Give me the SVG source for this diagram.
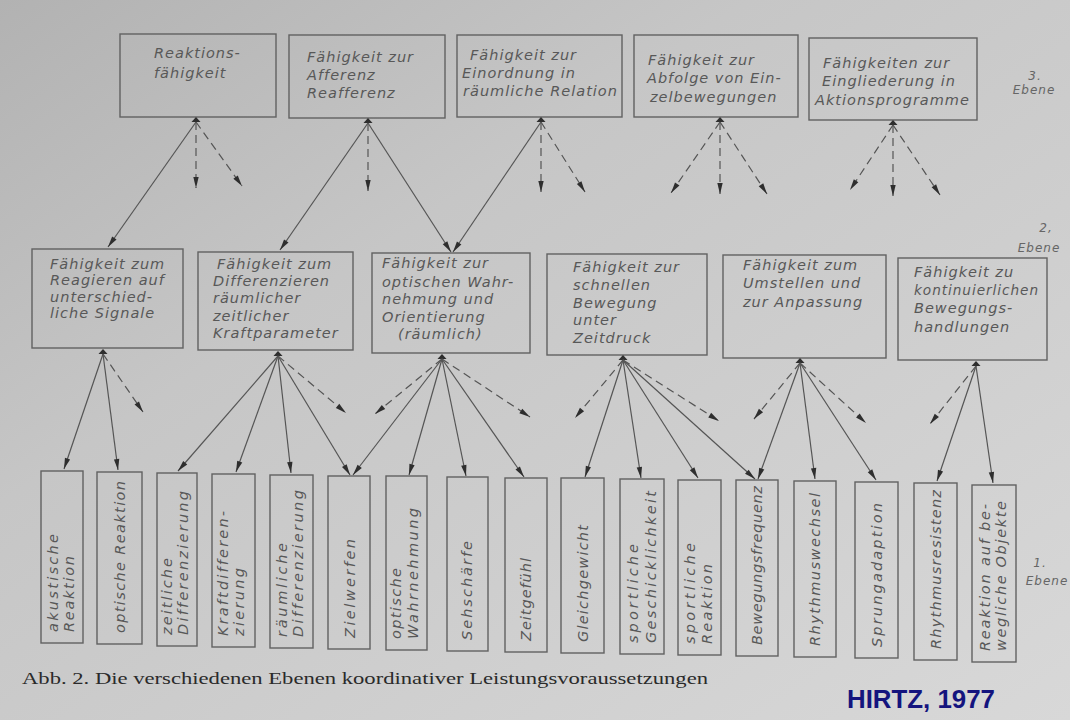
<svg xmlns="http://www.w3.org/2000/svg" width="1070" height="720" viewBox="0 0 1070 720">
<defs>
<linearGradient id="bg" x1="0" y1="0" x2="1" y2="1">
<stop offset="0" stop-color="#b2b2b2"/>
<stop offset="0.35" stop-color="#c6c6c6"/>
<stop offset="1" stop-color="#d8d8d8"/>
</linearGradient>
<marker id="ah" markerUnits="userSpaceOnUse" markerWidth="14" markerHeight="8" viewBox="-12 -4 14 8" refX="0" refY="0" orient="auto">
<path d="M0,0 L-11,-2.7 L-11,2.7 z" fill="#2e2e2e"/>
</marker>
<path id="tri" d="M0,0 L4.5,5 L-4.5,5 z"/>
</defs>
<style>
.box{fill:none;stroke:#616161;stroke-width:1.4}
.lbl{font-family:"DejaVu Sans",sans-serif;font-style:italic;font-size:14.5px;fill:#585858;letter-spacing:1px}
.v{font-family:"DejaVu Sans",sans-serif;font-style:italic;font-size:14.5px;fill:#585858;letter-spacing:1px}
.eb{font-family:"DejaVu Sans",sans-serif;font-style:italic;font-size:12px;fill:#666;letter-spacing:1px;text-anchor:middle}
.ln{stroke:#555;stroke-width:1.2;fill:none;marker-end:url(#ah)}
.dl{stroke-dasharray:8 5}
.apex{fill:#2e2e2e}
.cap{font-family:"Liberation Serif",serif;font-size:16px;fill:#2a2a2a}
.hz{font-family:"Liberation Sans",sans-serif;font-weight:bold;font-size:25px;fill:#14147e}
</style>
<rect x="0" y="0" width="1070" height="720" fill="url(#bg)"/>

<!-- Level 3 -->
<g id="t1"><rect class="box" x="120" y="34" width="156" height="83"/>
<text class="lbl"><tspan x="154" y="58">Reaktions-</tspan><tspan x="154" y="78">fähigkeit</tspan></text></g>
<g id="t2"><rect class="box" x="289" y="35" width="156" height="83"/>
<text class="lbl"><tspan x="307" y="62">Fähigkeit zur</tspan><tspan x="307" y="80">Afferenz</tspan><tspan x="307" y="98">Reafferenz</tspan></text></g>
<g id="t3"><rect class="box" x="457" y="35" width="165" height="82"/>
<text class="lbl"><tspan x="470" y="60">Fähigkeit zur</tspan><tspan x="462" y="78">Einordnung in</tspan></text>
<text class="lbl" x="463" y="96" textLength="155" lengthAdjust="spacingAndGlyphs">räumliche Relation</text></g>
<g id="t4"><rect class="box" x="634" y="35" width="164" height="82"/>
<text class="lbl"><tspan x="648" y="65">Fähigkeit zur</tspan><tspan x="647" y="83">Abfolge von Ein-</tspan><tspan x="650" y="102">zelbewegungen</tspan></text></g>
<g id="t5"><rect class="box" x="809" y="38" width="168" height="82"/>
<text class="lbl"><tspan x="823" y="68">Fähigkeiten zur</tspan><tspan x="822" y="86">Eingliederung in</tspan><tspan x="815" y="105">Aktionsprogramme</tspan></text></g>

<!-- Level 2 -->
<g id="m1"><rect class="box" x="32" y="249" width="151" height="99"/>
<text class="lbl"><tspan x="50" y="269">Fähigkeit zum</tspan><tspan x="50" y="285">Reagieren auf</tspan><tspan x="50" y="302">unterschied-</tspan><tspan x="50" y="318">liche Signale</tspan></text></g>
<g id="m2"><rect class="box" x="198" y="252" width="155" height="98"/>
<text class="lbl"><tspan x="217" y="269">Fähigkeit zum</tspan><tspan x="213" y="286">Differenzieren</tspan><tspan x="213" y="303">räumlicher</tspan><tspan x="213" y="321">zeitlicher</tspan><tspan x="213" y="338">Kraftparameter</tspan></text></g>
<g id="m3"><rect class="box" x="372" y="253" width="158" height="100"/>
<text class="lbl"><tspan x="382" y="268">Fähigkeit zur</tspan><tspan x="382" y="287">optischen Wahr-</tspan><tspan x="382" y="304">nehmung und</tspan><tspan x="382" y="322">Orientierung</tspan><tspan x="398" y="339">(räumlich)</tspan></text></g>
<g id="m4"><rect class="box" x="547" y="254" width="160" height="101"/>
<text class="lbl"><tspan x="573" y="272">Fähigkeit zur</tspan><tspan x="573" y="290">schnellen</tspan><tspan x="573" y="308">Bewegung</tspan><tspan x="573" y="325">unter</tspan><tspan x="573" y="343">Zeitdruck</tspan></text></g>
<g id="m5"><rect class="box" x="723" y="255" width="163" height="103"/>
<text class="lbl"><tspan x="743" y="270">Fähigkeit zum</tspan><tspan x="743" y="288">Umstellen und</tspan><tspan x="743" y="307">zur Anpassung</tspan></text></g>
<g id="m6"><rect class="box" x="898" y="258" width="149" height="102"/>
<text class="lbl"><tspan x="914" y="277">Fähigkeit zu</tspan></text>
<text class="lbl" x="914" y="295" textLength="125" lengthAdjust="spacingAndGlyphs">kontinuierlichen</text>
<text class="lbl"><tspan x="914" y="313">Bewegungs-</tspan><tspan x="914" y="332">handlungen</tspan></text></g>

<!-- Level 1 -->
<g id="b1"><rect class="box" x="41" y="471" width="42" height="172"/>
<text class="v" transform="translate(58,632) rotate(-90)" textLength="99">akustische</text>
<text class="v" transform="translate(74,632) rotate(-90)" textLength="77">Reaktion</text></g>
<g id="b2"><rect class="box" x="97" y="472" width="45" height="172"/>
<text class="v" transform="translate(125,633) rotate(-90)" textLength="153">optische Reaktion</text></g>
<g id="b3"><rect class="box" x="157" y="473" width="40" height="173"/>
<text class="v" transform="translate(172,635) rotate(-90)" textLength="78">zeitliche</text>
<text class="v" transform="translate(188,635) rotate(-90)" textLength="145">Differenzierung</text></g>
<g id="b4"><rect class="box" x="212" y="474" width="43" height="173"/>
<text class="v" transform="translate(228,636) rotate(-90)" textLength="126">Kraftdifferen-</text>
<text class="v" transform="translate(244,636) rotate(-90)" textLength="69">zierung</text></g>
<g id="b5"><rect class="box" x="270" y="475" width="43" height="173"/>
<text class="v" transform="translate(287,637) rotate(-90)" textLength="95">räumliche</text>
<text class="v" transform="translate(303,637) rotate(-90)" textLength="148">Differenzierung</text></g>
<g id="b6"><rect class="box" x="328" y="476" width="42" height="173"/>
<text class="v" transform="translate(355,638) rotate(-90)" textLength="100">Zielwerfen</text></g>
<g id="b7"><rect class="box" x="386" y="476" width="41" height="174"/>
<text class="v" transform="translate(401,639) rotate(-90)" textLength="72">optische</text>
<text class="v" transform="translate(418,639) rotate(-90)" textLength="132">Wahrnehmung</text></g>
<g id="b8"><rect class="box" x="447" y="477" width="41" height="174"/>
<text class="v" transform="translate(472,640) rotate(-90)" textLength="100">Sehschärfe</text></g>
<g id="b9"><rect class="box" x="505" y="478" width="42" height="174"/>
<text class="v" transform="translate(531,641) rotate(-90)" textLength="84">Zeitgefühl</text></g>
<g id="b10"><rect class="box" x="561" y="478" width="43" height="175"/>
<text class="v" transform="translate(588,642) rotate(-90)" textLength="118">Gleichgewicht</text></g>
<g id="b11"><rect class="box" x="620" y="479" width="44" height="175"/>
<text class="v" transform="translate(638,643) rotate(-90)" textLength="100">sportliche</text>
<text class="v" transform="translate(656,643) rotate(-90)" textLength="153">Geschicklichkeit</text></g>
<g id="b12"><rect class="box" x="678" y="480" width="43" height="175"/>
<text class="v" transform="translate(695,644) rotate(-90)" textLength="102">sportliche</text>
<text class="v" transform="translate(712,644) rotate(-90)" textLength="81">Reaktion</text></g>
<g id="b13"><rect class="box" x="736" y="480" width="42" height="176"/>
<text class="v" transform="translate(762,645) rotate(-90)" textLength="160">Bewegungsfrequenz</text></g>
<g id="b14"><rect class="box" x="794" y="481" width="42" height="176"/>
<text class="v" transform="translate(820,646) rotate(-90)" textLength="154">Rhythmuswechsel</text></g>
<g id="b15"><rect class="box" x="855" y="482" width="43" height="176"/>
<text class="v" transform="translate(882,647) rotate(-90)" textLength="145">Sprungadaption</text></g>
<g id="b16"><rect class="box" x="914" y="483" width="43" height="177"/>
<text class="v" transform="translate(941,649) rotate(-90)" textLength="160">Rhythmusresistenz</text></g>
<g id="b17"><rect class="box" x="972" y="485" width="44" height="177"/>
<text class="v" transform="translate(990,651) rotate(-90)" textLength="148">Reaktion auf be-</text>
<text class="v" transform="translate(1006,651) rotate(-90)" textLength="151">wegliche Objekte</text></g>

<!-- Level labels -->
<g id="levels">
<text class="eb" x="1035" y="80">3.</text><text class="eb" x="1034" y="94">Ebene</text>
<text class="eb" x="1046" y="232">2,</text><text class="eb" x="1039" y="252">Ebene</text>
<text class="eb" x="1040" y="567">1.</text><text class="eb" x="1047" y="585">Ebene</text>
</g>

<!-- Connectors -->
<g id="connectors">
<use href="#tri" class="apex" x="196" y="117"/>
<use href="#tri" class="apex" x="368" y="118"/>
<use href="#tri" class="apex" x="541" y="117"/>
<use href="#tri" class="apex" x="720" y="117"/>
<use href="#tri" class="apex" x="893" y="120"/>
<use href="#tri" class="apex" x="103" y="349"/>
<use href="#tri" class="apex" x="278" y="351"/>
<use href="#tri" class="apex" x="442" y="354"/>
<use href="#tri" class="apex" x="623" y="355"/>
<use href="#tri" class="apex" x="800" y="358"/>
<use href="#tri" class="apex" x="976" y="361"/>

<line class="ln" x1="196" y1="122" x2="108" y2="247"/>
<line class="ln dl" x1="196" y1="122" x2="196" y2="188"/>
<line class="ln dl" x1="196" y1="122" x2="242" y2="186"/>

<line class="ln" x1="368" y1="123" x2="280" y2="250"/>
<line class="ln dl" x1="368" y1="123" x2="368" y2="191"/>
<line class="ln" x1="368" y1="123" x2="451" y2="252"/>

<line class="ln" x1="541" y1="122" x2="453" y2="252"/>
<line class="ln dl" x1="541" y1="122" x2="541" y2="192"/>
<line class="ln dl" x1="541" y1="122" x2="585" y2="192"/>

<line class="ln dl" x1="720" y1="122" x2="671" y2="193"/>
<line class="ln dl" x1="720" y1="122" x2="720" y2="194"/>
<line class="ln dl" x1="720" y1="122" x2="767" y2="194"/>

<line class="ln dl" x1="893" y1="125" x2="850" y2="190"/>
<line class="ln dl" x1="893" y1="125" x2="893" y2="196"/>
<line class="ln dl" x1="893" y1="125" x2="940" y2="195"/>

<line class="ln" x1="103" y1="354" x2="64" y2="469"/>
<line class="ln" x1="103" y1="354" x2="118" y2="470"/>
<line class="ln dl" x1="103" y1="354" x2="143" y2="412"/>

<line class="ln" x1="278" y1="356" x2="178" y2="471"/>
<line class="ln" x1="278" y1="356" x2="236" y2="472"/>
<line class="ln" x1="278" y1="356" x2="291" y2="473"/>
<line class="ln" x1="278" y1="356" x2="350" y2="475"/>
<line class="ln dl" x1="278" y1="356" x2="346" y2="413"/>

<line class="ln dl" x1="442" y1="359" x2="375" y2="414"/>
<line class="ln" x1="442" y1="359" x2="353" y2="475"/>
<line class="ln" x1="442" y1="359" x2="409" y2="475"/>
<line class="ln" x1="442" y1="359" x2="466" y2="476"/>
<line class="ln" x1="442" y1="359" x2="524" y2="477"/>
<line class="ln dl" x1="442" y1="359" x2="530" y2="417"/>

<line class="ln dl" x1="623" y1="360" x2="575" y2="418"/>
<line class="ln" x1="623" y1="360" x2="585" y2="477"/>
<line class="ln" x1="623" y1="360" x2="641" y2="478"/>
<line class="ln" x1="623" y1="360" x2="698" y2="478"/>
<line class="ln" x1="623" y1="360" x2="755" y2="479"/>
<line class="ln dl" x1="623" y1="360" x2="719" y2="421"/>

<line class="ln dl" x1="800" y1="363" x2="754" y2="419"/>
<line class="ln" x1="800" y1="363" x2="758" y2="479"/>
<line class="ln" x1="800" y1="363" x2="815" y2="479"/>
<line class="ln" x1="800" y1="363" x2="876" y2="480"/>
<line class="ln dl" x1="800" y1="363" x2="866" y2="423"/>

<line class="ln dl" x1="976" y1="366" x2="930" y2="424"/>
<line class="ln" x1="976" y1="366" x2="937" y2="481"/>
<line class="ln" x1="976" y1="366" x2="993" y2="483"/>
</g>

<!-- Caption -->
<g id="caption">
<text class="cap" x="22" y="684" textLength="686" lengthAdjust="spacingAndGlyphs">Abb. 2. Die verschiedenen Ebenen koordinativer Leistungsvoraussetzungen</text>
<text class="hz" x="847" y="708" textLength="148" lengthAdjust="spacingAndGlyphs">HIRTZ, 1977</text>
</g>
</svg>
